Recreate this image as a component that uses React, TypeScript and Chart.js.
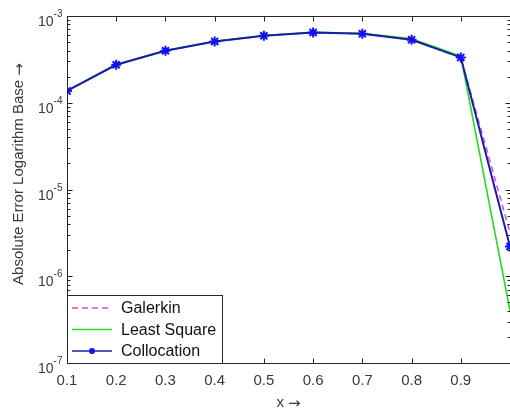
import React, { useEffect, useRef } from 'react';
import { Chart, registerables } from 'chart.js';

Chart.register(...registerables);

// ---- data ----
const X_VALUES = [0.1, 0.2, 0.3, 0.4, 0.5, 0.6, 0.7, 0.8, 0.9, 1.0];
const GALERKIN = [1.37e-4, 2.74e-4, 3.98e-4, 5.09e-4, 5.92e-4, 6.45e-4, 6.24e-4, 5.32e-4, 3.33e-4, 3.2e-6];
const LEAST_SQUARE = [1.38e-4, 2.76e-4, 4.0e-4, 5.12e-4, 5.95e-4, 6.48e-4, 6.3e-4, 5.45e-4, 3.45e-4, 4.0e-7];
const COLLOCATION = [1.37e-4, 2.74e-4, 3.98e-4, 5.09e-4, 5.92e-4, 6.45e-4, 6.24e-4, 5.32e-4, 3.33e-4, 2.2e-6];
const SERIES_NAMES = ['Galerkin', 'Least Square', 'Collocation'];
const X_TICKS = [0.1, 0.2, 0.3, 0.4, 0.5, 0.6, 0.7, 0.8, 0.9, 1.0];
const X_TICK_LABELS = ['0.1', '0.2', '0.3', '0.4', '0.5', '0.6', '0.7', '0.8', '0.9', ''];
const Y_DECADES = [-7, -6, -5, -4, -3];
const Y_TICK_BASE = '10';
const Y_TICK_EXPONENTS = ['-7', '-6', '-5', '-4', '-3'];
const X_TITLE = 'x ';
const Y_TITLE = 'Absolute Error Logarithm Base ';
const ARROW = '\u2192';

const FONT = '"Liberation Sans", Arial, Helvetica, sans-serif';
const ARROW_FONT = '"DejaVu Sans", sans-serif';
const AXIS_COLOR = '#262626';
const TEXT_COLOR = '#3a3a3a';
const C_GAL = '#d04fd0';
const C_LS = '#22dd22';
const C_COL = '#1c1ca8';
const C_MARK = '#1010f0';

function drawTitle(ctx: CanvasRenderingContext2D, text: string, cx: number, cy: number) {
  ctx.font = `15px ${FONT}`;
  const w1 = ctx.measureText(text).width;
  ctx.font = `15px ${ARROW_FONT}`;
  const w2 = ctx.measureText(ARROW).width;
  const start = cx - (w1 + w2) / 2;
  ctx.textAlign = 'left';
  ctx.textBaseline = 'middle';
  ctx.font = `15px ${FONT}`;
  ctx.fillText(text, start, cy);
  ctx.font = `15px ${ARROW_FONT}`;
  ctx.fillText(ARROW, start + w1, cy + 1);
}

const matlabPlugin = {
  id: 'matlabAxes',
  afterDraw(chart: any) {
    const { ctx, chartArea: a, scales } = chart;
    const xs = scales.x;
    const ys = scales.y;
    ctx.save();
    ctx.strokeStyle = AXIS_COLOR;
    ctx.lineWidth = 1;
    const line = (x1: number, y1: number, x2: number, y2: number) => {
      ctx.beginPath();
      ctx.moveTo(x1, y1);
      ctx.lineTo(x2, y2);
      ctx.stroke();
    };
    const L = Math.round(a.left) + 0.5;
    const R = Math.round(a.right) + 0.5;
    const T = Math.round(a.top) + 0.5;
    const B = Math.round(a.bottom) + 0.5;
    // box
    line(L, T, R, T);
    line(L, B, R, B);
    line(L, T, L, B);
    line(R, T, R, B);
    // x ticks (inward, top and bottom)
    X_TICKS.forEach((v) => {
      const px = Math.round(xs.getPixelForValue(v)) + 0.5;
      line(px, B, px, B - 5);
      line(px, T, px, T + 5);
    });
    // y ticks: majors and minors
    Y_DECADES.forEach((d, i) => {
      const maxM = i === Y_DECADES.length - 1 ? 1 : 9;
      for (let m = 1; m <= maxM; m++) {
        const v = m * Math.pow(10, d);
        const py = Math.round(ys.getPixelForValue(v)) + 0.5;
        const len = m === 1 ? 5 : 3;
        line(L, py, L + len, py);
        line(R, py, R - len, py);
      }
    });
    // y tick labels with superscripts
    ctx.fillStyle = TEXT_COLOR;
    ctx.textBaseline = 'alphabetic';
    Y_DECADES.forEach((d, i) => {
      const py = ys.getPixelForValue(Math.pow(10, d));
      const right = L - 5;
      ctx.font = `10px ${FONT}`;
      ctx.textAlign = 'right';
      const sup = Y_TICK_EXPONENTS[i];
      const supW = ctx.measureText(sup).width;
      ctx.fillText(sup, right, py + 1);
      ctx.font = `14px ${FONT}`;
      ctx.fillText(Y_TICK_BASE, right - supW, py + 10);
    });
    // titles
    drawTitle(ctx, X_TITLE, (a.left + a.right) / 2, 403);
    ctx.save();
    ctx.translate(19, 174);
    ctx.rotate(-Math.PI / 2);
    drawTitle(ctx, Y_TITLE, 0, 0);
    ctx.restore();

    // legend
    const lx0 = L, ly1 = B, lx1 = 222.5, ly0 = 295.5;
    ctx.fillStyle = '#ffffff';
    ctx.fillRect(lx0, ly0, lx1 - lx0, ly1 - ly0);
    ctx.strokeStyle = AXIS_COLOR;
    ctx.strokeRect(lx0, ly0, lx1 - lx0, ly1 - ly0);
    const rows = [308, 329.5, 351];
    const colors = [C_GAL, C_LS, C_COL];
    SERIES_NAMES.forEach((name, i) => {
      const y = rows[i];
      ctx.strokeStyle = colors[i];
      ctx.lineWidth = 1.5;
      ctx.setLineDash(i === 0 ? [6, 4] : []);
      line(72, y, 112, y);
      ctx.setLineDash([]);
      if (i === 2) {
        ctx.fillStyle = C_MARK;
        ctx.beginPath();
        ctx.arc(92, y, 3, 0, Math.PI * 2);
        ctx.fill();
      }
      ctx.fillStyle = '#111111';
      ctx.font = `16px ${FONT}`;
      ctx.textAlign = 'left';
      ctx.textBaseline = 'middle';
      ctx.fillText(name, 121, y + 1);
    });
    ctx.restore();
  },
};

export default function App() {
  const ref = useRef<HTMLCanvasElement>(null);
  useEffect(() => {
    if (!ref.current) return;
    const mk = (ys: number[]) => X_VALUES.map((x, i) => ({ x, y: ys[i] }));
    const chart = new Chart(ref.current, {
      type: 'line',
      data: {
        datasets: [
          {
            label: SERIES_NAMES[0],
            data: mk(GALERKIN),
            borderColor: C_GAL,
            borderWidth: 1.5,
            borderDash: [6, 4],
            pointRadius: 0,
            fill: false,
            order: 3,
          },
          {
            label: SERIES_NAMES[1],
            data: mk(LEAST_SQUARE),
            borderColor: C_LS,
            borderWidth: 1.6,
            pointRadius: 0,
            fill: false,
            order: 2,
          },
          {
            label: SERIES_NAMES[2],
            data: mk(COLLOCATION),
            borderColor: C_COL,
            borderWidth: 2,
            pointStyle: 'star',
            pointRadius: 5,
            pointBorderWidth: 2,
            pointBorderColor: C_MARK,
            pointBackgroundColor: C_MARK,
            fill: false,
            order: 1,
          },
        ],
      },
      options: {
        responsive: false,
        animation: false,
        devicePixelRatio: 1,
        layout: { padding: { top: 16, right: 10, left: 0, bottom: 0 } },
        plugins: { legend: { display: false }, tooltip: { enabled: false } },
        scales: {
          x: {
            type: 'linear',
            min: 0.1,
            max: 1.0,
            grid: { display: false, drawTicks: false },
            border: { display: false },
            afterBuildTicks: (s: any) => {
              s.ticks = X_TICKS.map((v) => ({ value: v }));
            },
            afterFit: (s: any) => {
              s.height = 49;
            },
            ticks: {
              autoSkip: false,
              maxRotation: 0,
              padding: 9,
              color: TEXT_COLOR,
              font: { family: FONT, size: 15 },
              callback: (_v: any, i: number) => X_TICK_LABELS[i],
            },
          },
          y: {
            type: 'logarithmic',
            min: 1e-7,
            max: 1e-3,
            grid: { display: false, drawTicks: false },
            border: { display: false },
            ticks: { display: false },
            afterFit: (s: any) => {
              s.width = 67;
            },
          },
        },
      },
      plugins: [matlabPlugin],
    });
    return () => chart.destroy();
  }, []);
  return (
    <div style={{ position: 'fixed', left: 0, top: 0, width: 510, height: 412, overflow: 'hidden', background: '#fff' }}>
      <canvas ref={ref} width={520} height={412} style={{ display: 'block' }} />
    </div>
  );
}
